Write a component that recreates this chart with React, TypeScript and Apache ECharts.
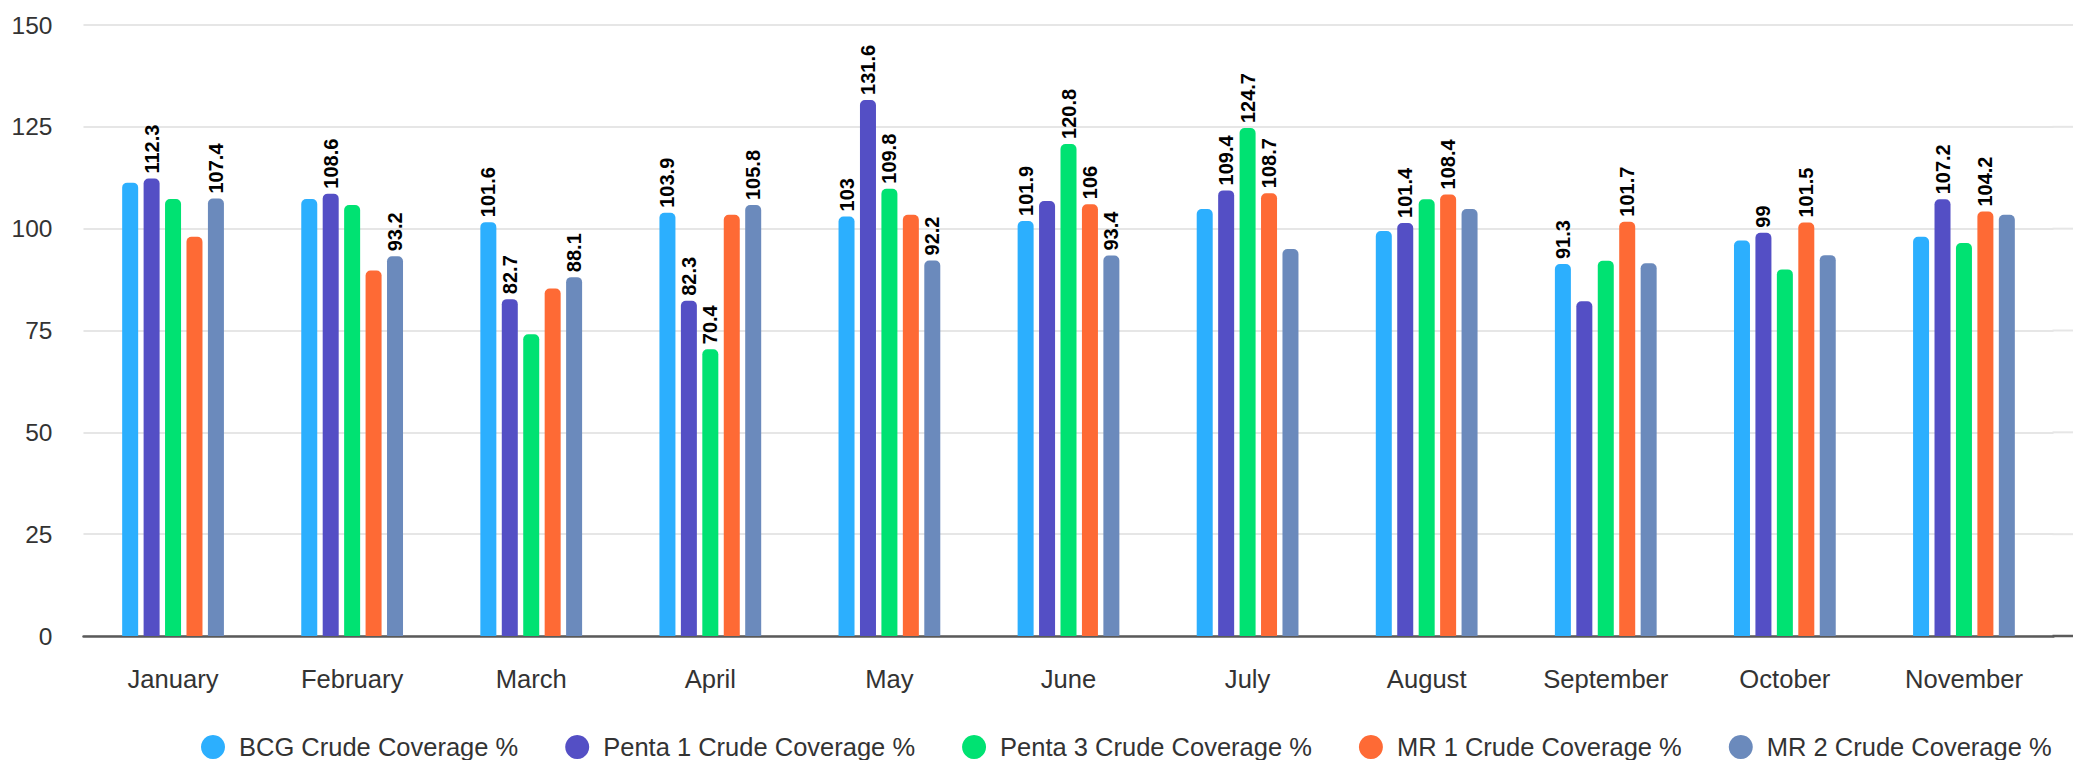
import React, { useEffect, useRef } from "react";
import * as echarts from "echarts";

const months = ["January", "February", "March", "April", "May", "June", "July", "August", "September", "October", "November"];
const seriesNames = ["BCG Crude Coverage %", "Penta 1 Crude Coverage %", "Penta 3 Crude Coverage %", "MR 1 Crude Coverage %", "MR 2 Crude Coverage %"];
const colors = ["#2caffe", "#544fc5", "#00e272", "#fe6a35", "#6b8abc"];

const bcg = [111.3, 107.3, 101.6, 103.9, 103, 101.9, 104.8, 99.4, 91.3, 97.1, 98.0];
const penta1 = [112.3, 108.6, 82.7, 82.3, 131.6, 106.8, 109.4, 101.4, 82.2, 99, 107.2];
const penta3 = [107.3, 105.8, 74.1, 70.4, 109.8, 120.8, 124.7, 107.2, 92.1, 90.0, 96.5];
const mr1 = [98.0, 89.7, 85.3, 103.4, 103.4, 106, 108.7, 108.4, 101.7, 101.5, 104.2];
const mr2 = [107.4, 93.2, 88.1, 105.8, 92.2, 93.4, 95.0, 104.8, 91.5, 93.5, 103.4];

const bcgLabels = [false, false, true, true, true, true, false, false, true, false, false];
const penta1Labels = [true, true, true, true, true, false, true, true, false, true, true];
const penta3Labels = [false, false, false, true, true, true, true, false, false, false, false];
const mr1Labels = [false, false, false, false, false, true, true, true, true, true, true];
const mr2Labels = [true, true, true, true, true, true, false, false, false, false, false];

const yTicks = [0, 25, 50, 75, 100, 125, 150];

const FONT = "'Liberation Sans', Arial, Helvetica, sans-serif";

export default function App() {
  const ref = useRef<HTMLDivElement>(null);
  useEffect(() => {
    if (!ref.current) return;
    const chart = echarts.init(ref.current, undefined, { renderer: "svg" });
    const allValues = [bcg, penta1, penta3, mr1, mr2];
    const allLabels = [bcgLabels, penta1Labels, penta3Labels, mr1Labels, mr2Labels];
    const series = seriesNames.map((name, si) => ({
      name,
      type: "bar",
      barWidth: 16,
      barGap: "34%",
      itemStyle: { color: colors[si], borderRadius: [5, 5, 0, 0] },
      label: {
        show: false,
        position: "top",
        rotate: 90,
        align: "left",
        verticalAlign: "middle",
        distance: 5,
        color: "#000000",
        fontWeight: "bold",
        fontSize: 20,
        fontFamily: FONT,
      },
      data: allValues[si].map((v, i) => ({ value: v, label: { show: allLabels[si][i] } })),
    }));
    const gridLeft = 83.5;
    const gridRight = 19.5;
    chart.setOption({
      animation: false,
      color: colors,
      grid: { left: gridLeft, right: gridRight, top: 25, bottom: 124, containLabel: false },
      legend: {
        left: 201,
        top: 734,
        padding: 0,
        icon: "circle",
        itemWidth: 24,
        itemHeight: 24,
        itemGap: 47,
        textStyle: { fontSize: 25.5, color: "#333333", fontFamily: FONT, padding: [0, 0, 0, 9] },
      },
      xAxis: {
        type: "category",
        data: months,
        axisTick: { show: false },
        axisLine: { lineStyle: { color: "#5a5a5a", width: 2.5 } },
        axisLabel: { fontSize: 25.6, color: "#333333", fontFamily: FONT, margin: 30 },
      },
      yAxis: {
        type: "value",
        min: 0,
        max: 150,
        interval: 25,
        axisLabel: { fontSize: 24.5, color: "#333333", fontFamily: FONT, margin: 31 },
        splitLine: { lineStyle: { color: "#e6e6e6", width: 2 } },
      },
      series,
    });
    const width = 2073;
    const xEnd = width - gridRight;
    const lines = yTicks.map((t) => {
      const y = chart.convertToPixel({ yAxisIndex: 0 }, t) as number;
      return {
        type: "line",
        silent: true,
        shape: { x1: xEnd - 1, y1: y, x2: width, y2: y },
        style: t === 0 ? { stroke: "#5a5a5a", lineWidth: 2.5 } : { stroke: "#e6e6e6", lineWidth: 2 },
        z: t === 0 ? 10 : 0,
      };
    });
    chart.setOption({ graphic: lines });
    return () => chart.dispose();
  }, []);
  return (
    <div style={{ position: "fixed", left: 0, top: 0, width: 2073, height: 760, background: "#ffffff" }}>
      <div ref={ref} style={{ width: 2073, height: 760 }} />
    </div>
  );
}
